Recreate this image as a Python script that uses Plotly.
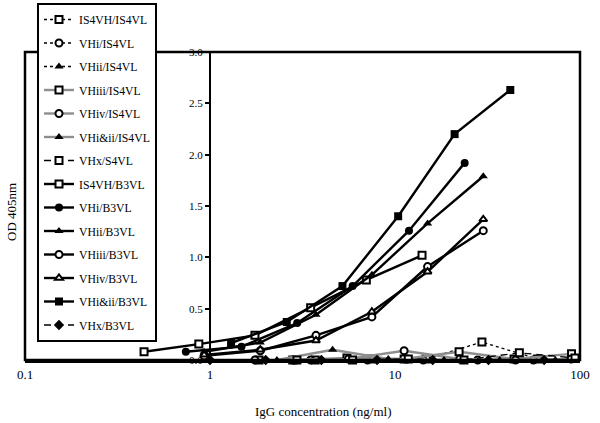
import plotly.graph_objects as go

# ---- data ----
names = ["IS4VH/IS4VL", "VHi/IS4VL", "VHii/IS4VL", "VHiii/IS4VL", "VHiv/IS4VL",
         "VHi&ii/IS4VL", "VHx/S4VL", "IS4VH/B3VL", "VHi/B3VL", "VHii/B3VL",
         "VHiii/B3VL", "VHiv/B3VL", "VHi&ii/B3VL", "VHx/B3VL"]

IS4VH_IS4VL_x = [1.84, 3.7, 7.4, 14.75, 29.5, 59]
IS4VH_IS4VL_y = [0.0, 0.0, 0.01, 0.01, 0.175, 0.01]
VHi_IS4VL_x = [1.75, 3.5, 7.1, 14.2, 28, 56]
VHi_IS4VL_y = [0.0, 0.0, 0.0, 0.0, 0.0, 0.0]
VHii_IS4VL_x = [2.0, 4.0, 8.0, 16, 32, 64]
VHii_IS4VL_y = [0.0, 0.0, 0.01, 0.0, 0.0, 0.0]
VHiii_IS4VL_x = [2.8, 5.5, 11.2, 22.2, 44, 90]
VHiii_IS4VL_y = [0.0, 0.02, 0.01, 0.08, 0.01, 0.06]
VHiv_IS4VL_x = [2.8, 5.6, 11.2, 22.4, 44.8, 89.6]
VHiv_IS4VL_y = [0.0, 0.01, 0.09, 0.01, 0.0, 0.01]
VHiandii_IS4VL_x = [2.3, 4.6, 9.2, 18.4, 36.8, 73.6]
VHiandii_IS4VL_y = [0.0, 0.10, 0.01, 0.0, 0.0, 0.0]
VHx_S4VL_x = [2.95, 5.9, 11.8, 23.6, 47, 94]
VHx_S4VL_y = [0.0, 0.0, 0.01, 0.0, 0.07, 0.02]

IS4VH_B3VL_x = [0.44, 0.87, 1.75, 3.5, 7.0, 14.0]
IS4VH_B3VL_y = [0.08, 0.155, 0.24, 0.51, 0.78, 1.02]
VHi_B3VL_x = [0.74, 1.48, 2.96, 5.9, 11.9, 23.8]
VHi_B3VL_y = [0.08, 0.13, 0.36, 0.72, 1.26, 1.92]
VHii_B3VL_x = [0.93, 1.87, 3.74, 7.5, 15, 30]
VHii_B3VL_y = [0.08, 0.17, 0.44, 0.83, 1.33, 1.79]
VHiii_B3VL_x = [0.93, 1.87, 3.74, 7.5, 15, 30]
VHiii_B3VL_y = [0.04, 0.09, 0.24, 0.42, 0.91, 1.26]
VHiv_B3VL_x = [0.93, 1.87, 3.74, 7.5, 15, 30]
VHiv_B3VL_y = [0.05, 0.10, 0.19, 0.47, 0.86, 1.37]
VHiandii_B3VL_x = [1.3, 2.6, 5.2, 10.4, 21, 42]
VHiandii_B3VL_y = [0.165, 0.37, 0.72, 1.40, 2.20, 2.63]
VHx_B3VL_x = [1.0, 2.0, 4.0, 8.0, 16, 32, 64]
VHx_B3VL_y = [0.0, 0.0, 0.0, 0.0, 0.0, 0.0, 0.0]

x_tickvals = [0.1, 1, 10, 100]
x_ticktext = ["0.1", "1", "10", "100"]
y_tickvals = [0.0, 0.5, 1.0, 1.5, 2.0, 2.5, 3.0]
y_ticktext = ["0.0", "0.5", "1.0", "1.5", "2.0", "2.5", "3.0"]

series_x = [IS4VH_IS4VL_x, VHi_IS4VL_x, VHii_IS4VL_x, VHiii_IS4VL_x, VHiv_IS4VL_x,
            VHiandii_IS4VL_x, VHx_S4VL_x, IS4VH_B3VL_x, VHi_B3VL_x, VHii_B3VL_x,
            VHiii_B3VL_x, VHiv_B3VL_x, VHiandii_B3VL_x, VHx_B3VL_x]
series_y = [IS4VH_IS4VL_y, VHi_IS4VL_y, VHii_IS4VL_y, VHiii_IS4VL_y, VHiv_IS4VL_y,
            VHiandii_IS4VL_y, VHx_S4VL_y, IS4VH_B3VL_y, VHi_B3VL_y, VHii_B3VL_y,
            VHiii_B3VL_y, VHiv_B3VL_y, VHiandii_B3VL_y, VHx_B3VL_y]

# ---- styles: line colour, dash, line width, symbol, filled? ----
GRAY = "#8e8e8e"
DOT = "3px,3px"
DASH = "7px,5px"
styles = [
    ("black", DOT, 1.3, "square", False),
    ("black", DOT, 1.3, "circle", False),
    ("black", DOT, 1.3, "triangle-up", True),
    (GRAY, "solid", 2.4, "square", False),
    (GRAY, "solid", 2.4, "circle", False),
    (GRAY, "solid", 2.4, "triangle-up", True),
    ("black", DASH, 1.3, "square", False),
    ("black", "solid", 2.4, "square", False),
    ("black", "solid", 2.4, "circle", True),
    ("black", "solid", 2.4, "triangle-up", True),
    ("black", "solid", 2.4, "circle", False),
    ("black", "solid", 2.4, "triangle-up", False),
    ("black", "solid", 2.4, "square", True),
    ("black", DASH, 1.3, "diamond", True),
]

fig = go.Figure()
for i, (nm, xs, ys) in enumerate(zip(names, series_x, series_y)):
    lc, dash, lw, sym, filled = styles[i]
    fig.add_trace(go.Scatter(
        x=xs, y=ys, name=nm, mode="lines+markers",
        legendgroup="g%d" % i,
        line=dict(color=lc, dash=dash, width=lw),
        marker=dict(symbol=sym, size=8 if filled else 7,
                    color="black" if filled else "white",
                    line=dict(color="black", width=0 if filled else 2)),
        cliponaxis=False,
    ))

fig.update_layout(
    width=600, height=423,
    margin=dict(l=25, r=20, t=52, b=63, autoexpand=False),
    paper_bgcolor="white", plot_bgcolor="white",
    font=dict(family="Liberation Serif", color="black"),
    showlegend=True,
    legend=dict(
        xref="container", yref="container",
        x=37 / 600, y=1 - 3 / 423, xanchor="left", yanchor="top",
        bgcolor="white", bordercolor="black", borderwidth=2,
        font=dict(size=11.7, family="Liberation Serif"),
        traceorder="grouped", tracegroupgap=4.5,
        itemwidth=30, maxheight=1,
    ),
    xaxis=dict(
        type="log", range=[-1, 2],
        tickvals=x_tickvals, ticktext=x_ticktext,
        ticks="", showgrid=False, zeroline=False,
        showline=True, linecolor="black", linewidth=2.5,
        tickfont=dict(size=13), ticklabelstandoff=1,
    ),
    yaxis=dict(
        range=[0, 3.0], anchor="free", position=1/3,
        tickvals=y_tickvals, ticktext=y_ticktext,
        ticks="outside", ticklen=4, tickwidth=2, tickcolor="black",
        showgrid=False, zeroline=False,
        showline=True, linecolor="black", linewidth=2,
        tickfont=dict(size=11),
    ),
    shapes=[dict(type="rect", xref="paper", yref="paper", x0=0, x1=1, y0=0, y1=1,
                 line=dict(color="black", width=2.5), layer="above")],
    annotations=[
        dict(text="IgG concentration (ng/ml)", xref="paper", yref="paper",
             x=(323 - 25) / 555, y=-(411 - 360) / 308, xanchor="center", yanchor="middle",
             showarrow=False, font=dict(size=13)),
        dict(text="OD 405nm", xref="paper", yref="paper",
             x=-(25 - 12) / 555, y=(360 - 212) / 308, xanchor="center", yanchor="middle",
             textangle=-90, showarrow=False, font=dict(size=13)),
    ],
)

fig.write_html("out.html", config={"displayModeBar": False},
               post_script="document.body.style.margin='0';")
